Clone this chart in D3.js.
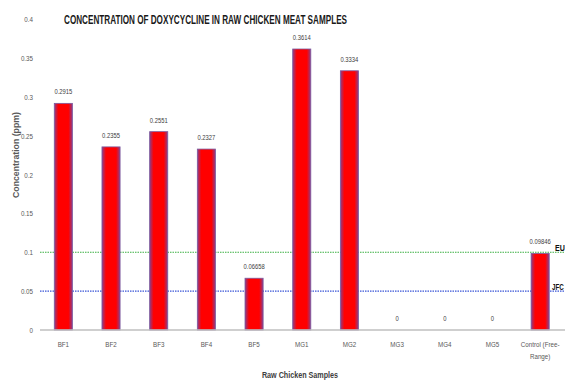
<!DOCTYPE html>
<html>
<head>
<meta charset="utf-8">
<script src="https://cdn.jsdelivr.net/npm/d3@7"></script>
<style>
  html, body { margin: 0; padding: 0; background: #fff; }
  svg { display: block; }
  text { font-family: "Liberation Sans", "DejaVu Sans", sans-serif; }
</style>
</head>
<body>
<svg id="chart" width="565" height="381"></svg>
<script>
// Doxycycline concentration (ppm) per raw chicken sample
const categories = ["BF1", "BF2", "BF3", "BF4", "BF5", "MG1", "MG2", "MG3", "MG4", "MG5", "Control (Free-Range)"];
const values = [0.2915, 0.2355, 0.2551, 0.2327, 0.06658, 0.3614, 0.3334, 0, 0, 0, 0.09846];
const valueLabels = ["0.2915", "0.2355", "0.2551", "0.2327", "0.06658", "0.3614", "0.3334", "0", "0", "0", "0.09846"];
const yTicks = [0, 0.05, 0.1, 0.15, 0.2, 0.25, 0.3, 0.35, 0.4];
const limitNames = ["EU", "JFC"];
const limitValues = [0.1, 0.05];
const limitColors = ["#3cb043", "#3a55d6"];

const svg = d3.select("#chart");
const W = 565, H = 381;
const NARROW = 0.78; // horizontal squeeze for a condensed look

const x = d3.scaleBand().domain(categories).range([39.5, 564]).paddingInner(0.62).paddingOuter(0.31);
const y = d3.scaleLinear().domain([0, 0.4]).range([330, 19]);

// condensed text helper: positioned by a group, squeezed horizontally
function narrowText(parent, px, py, str, opts) {
  const g = parent.append("g").attr("transform", `translate(${px},${py}) scale(${opts.sx || NARROW},1)`);
  return g.append("text")
    .attr("text-anchor", opts.anchor || "start")
    .attr("font-size", opts.size)
    .attr("font-weight", opts.weight || "normal")
    .attr("fill", opts.fill)
    .text(str);
}

// bar gradient: red core with purple edges
const defs = svg.append("defs");
const gh = defs.append("linearGradient").attr("id", "barH").attr("x1", 0).attr("x2", 1).attr("y1", 0).attr("y2", 0);
[[0, "#8a3f8c"], [0.22, "#ff0000"], [0.78, "#ff0000"], [1, "#8a3f8c"]].forEach(([o, c]) =>
  gh.append("stop").attr("offset", o).attr("stop-color", c));

// y tick labels
const yl = svg.append("g");
yTicks.forEach(t => narrowText(yl, 33, y(t) + 3, d3.format("")(t), { anchor: "end", size: 8, fill: "#595959" }));

// title
svg.append("text")
  .attr("x", 64).attr("y", 24)
  .attr("font-size", 12).attr("font-weight", "bold").attr("fill", "#1a1a1a")
  .attr("textLength", 283).attr("lengthAdjust", "spacingAndGlyphs")
  .text("CONCENTRATION OF DOXYCYCLINE IN RAW CHICKEN MEAT SAMPLES");

// y axis title
svg.append("text")
  .attr("transform", "translate(19,155) rotate(-90)")
  .attr("text-anchor", "middle")
  .attr("font-size", 8.5).attr("font-weight", "bold").attr("fill", "#595959")
  .attr("textLength", 86).attr("lengthAdjust", "spacingAndGlyphs")
  .text("Concentration (ppm)");

// limit lines
const lim = svg.append("g");
limitValues.forEach((v, i) => {
  lim.append("line")
    .attr("x1", 40).attr("x2", W).attr("y1", y(v)).attr("y2", y(v))
    .attr("stroke", limitColors[i]).attr("stroke-width", 1.1)
    .attr("stroke-dasharray", "1.5,1");
});
narrowText(lim, 555, y(limitValues[0]) - 1, limitNames[0], { size: 9.5, weight: "bold", fill: "#111", sx: 0.75 });
narrowText(lim, 552, y(limitValues[1]) - 1, limitNames[1], { size: 9.5, weight: "bold", fill: "#111", sx: 0.66 });

// bars
const barData = categories.map((c, i) => ({ c, v: values[i], label: valueLabels[i] }));
svg.append("g").selectAll("rect").data(barData.filter(d => d.v > 0)).join("rect")
  .attr("x", d => x(d.c)).attr("width", x.bandwidth())
  .attr("y", d => y(d.v)).attr("height", d => y(0) - y(d.v))
  .attr("fill", "url(#barH)")
  .attr("stroke", "#7b5a9e").attr("stroke-width", 0.8);

// value labels
const vl = svg.append("g");
barData.forEach(d => narrowText(vl, x(d.c) + x.bandwidth() / 2, y(d.v) - 9, d.label,
  { anchor: "middle", size: 7.5, fill: "#404040" }));

// x axis baseline
svg.append("line")
  .attr("x1", 40).attr("x2", W).attr("y1", y(0)).attr("y2", y(0))
  .attr("stroke", "#bfbfbf").attr("stroke-width", 1.5);

// category labels
const cl = svg.append("g");
categories.forEach(c => {
  const parts = c === "Control (Free-Range)" ? ["Control (Free-", "Range)"] : [c];
  parts.forEach((p, k) => narrowText(cl, x(c) + x.bandwidth() / 2, 347 + k * 12, p,
    { anchor: "middle", size: 8, fill: "#595959" }));
});

// x axis title
narrowText(svg, 300, 378, "Raw Chicken Samples", { anchor: "middle", size: 9, weight: "bold", fill: "#404040", sx: 0.8 });
</script>
</body>
</html>
